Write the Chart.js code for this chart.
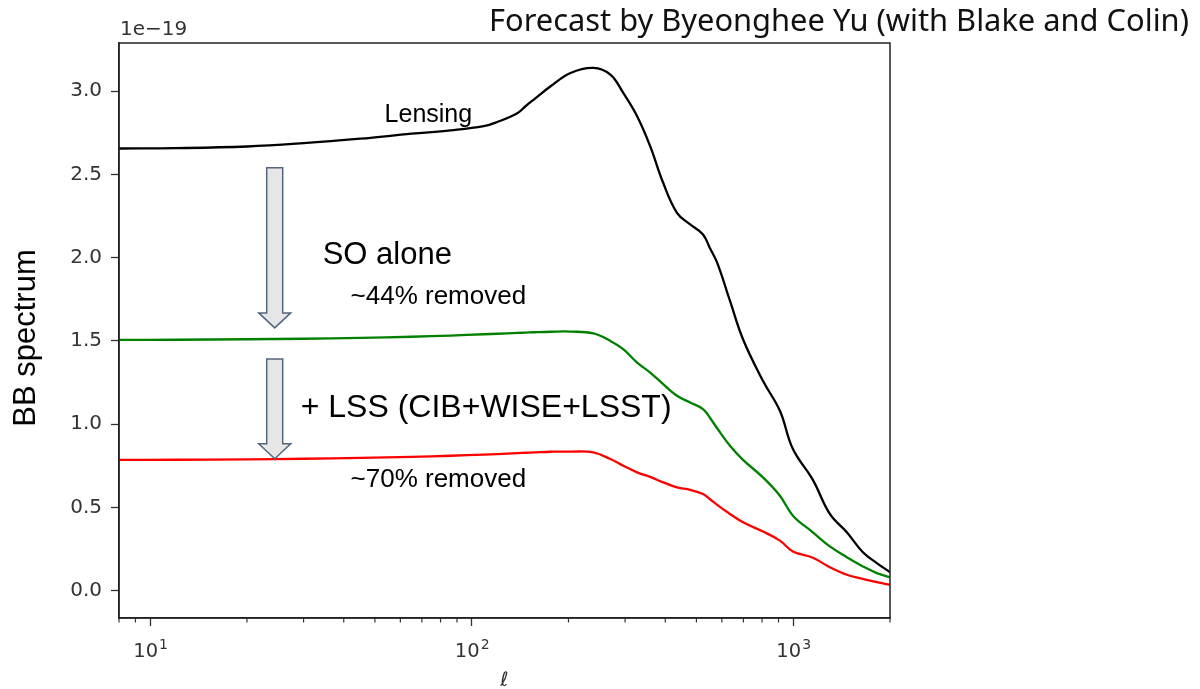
<!DOCTYPE html>
<html>
<head>
<meta charset="utf-8">
<script src="https://cdn.jsdelivr.net/npm/chart.js@4.4.1/dist/chart.umd.min.js"></script>
<style>
  html, body { margin: 0; padding: 0; background: #fff; }
  #wrap { width: 1200px; height: 689px; }
</style>
</head>
<body>
<div id="wrap"><canvas id="chart" width="1200" height="689"></canvas></div>
<script>
// multipole ell and BB spectra (units of 1e-19)
const ell = [8, 12, 20, 30, 45, 65, 86, 109, 120, 139, 147, 156, 176, 203, 239, 270, 296, 327, 359, 394,
  435, 478, 524, 550, 580, 636, 698, 805, 909, 998, 1151, 1300, 1468, 1647, 1820, 2000];
const lensing = [2.656, 2.658, 2.668, 2.688, 2.715, 2.745, 2.765, 2.79, 2.815, 2.87, 2.91, 2.95, 3.03,
  3.11, 3.14, 3.10, 2.99, 2.85, 2.67, 2.45, 2.27, 2.20, 2.14, 2.06, 1.97, 1.74, 1.51, 1.26, 1.08,
  0.85, 0.665, 0.46, 0.35, 0.23, 0.165, 0.11];
const soAlone = [1.506, 1.507, 1.51, 1.513, 1.518, 1.525, 1.532, 1.54, 1.543, 1.548, 1.55, 1.552,
  1.555, 1.556, 1.545, 1.50, 1.45, 1.37, 1.31, 1.24, 1.17, 1.13, 1.09, 1.04, 0.975, 0.87, 0.785,
  0.68, 0.57, 0.45, 0.35, 0.265, 0.20, 0.145, 0.105, 0.08];
const soPlusLss = [0.785, 0.786, 0.788, 0.792, 0.797, 0.803, 0.81, 0.817, 0.82, 0.826, 0.828, 0.83,
  0.834, 0.835, 0.83, 0.79, 0.75, 0.71, 0.683, 0.65, 0.62, 0.605, 0.58, 0.55, 0.515, 0.46, 0.41,
  0.355, 0.30, 0.235, 0.197, 0.14, 0.095, 0.07, 0.05, 0.034];

const yTicks = [0, 0.5, 1.0, 1.5, 2.0, 2.5, 3.0];
const xTicks = [10, 100, 1000];
const xTickExp = ['1', '2', '3'];
const xMinorTicks = [8, 9, 20, 30, 40, 50, 60, 70, 80, 90, 200, 300, 400, 500, 600, 700, 800, 900, 2000];

// text overlays (placed in data coordinates: ell, value)
const notes = [
  { text: 'Lensing', ell: 53.6, value: 2.818, size: 25 },
  { text: 'SO alone', ell: 34.4, value: 1.964, size: 31 },
  { text: '~44% removed', ell: 42.0, value: 1.724, size: 26 },
  { text: '+ LSS (CIB+WISE+LSST)', ell: 29.4, value: 1.045, size: 32 },
  { text: '~70% removed', ell: 42.0, value: 0.623, size: 26 }
];
// down arrows: ell position, start value, tip value
const arrows = [
  { ell: 24.4, from: 2.54, to: 1.578 },
  { ell: 24.4, from: 1.391, to: 0.792 }
];

const toPoints = ys => ell.map((l, i) => ({ x: l, y: ys[i] }));

const decor = {
  id: 'decor',
  afterDatasetsDraw(chart) {
    const { ctx, scales } = chart;
    const xs = scales.x, ys = scales.y;
    ctx.save();

    // arrows
    arrows.forEach(ar => {
      const cx = xs.getPixelForValue(ar.ell);
      const y0 = ys.getPixelForValue(ar.from);
      const y1 = ys.getPixelForValue(ar.to);
      const sw = 8, hw = 16, hl = 15;
      ctx.beginPath();
      ctx.moveTo(cx - sw, y0);
      ctx.lineTo(cx + sw, y0);
      ctx.lineTo(cx + sw, y1 - hl);
      ctx.lineTo(cx + hw, y1 - hl);
      ctx.lineTo(cx, y1);
      ctx.lineTo(cx - hw, y1 - hl);
      ctx.lineTo(cx - sw, y1 - hl);
      ctx.closePath();
      ctx.fillStyle = '#e6e6e6';
      ctx.fill();
      ctx.lineWidth = 1.5;
      ctx.strokeStyle = '#53667d';
      ctx.stroke();
    });

    // text notes
    ctx.fillStyle = '#000';
    ctx.textAlign = 'left';
    ctx.textBaseline = 'alphabetic';
    notes.forEach(n => {
      ctx.font = n.size + 'px "Liberation Sans", Arial, sans-serif';
      ctx.fillText(n.text, xs.getPixelForValue(n.ell), ys.getPixelForValue(n.value));
    });
    ctx.restore();
  },
  afterDraw(chart) {
    const { ctx, chartArea: a, scales } = chart;
    ctx.save();
    // frame
    ctx.strokeStyle = '#222';
    ctx.lineWidth = 1.5;
    ctx.strokeRect(a.left, a.top, a.right - a.left, a.bottom - a.top);

    // minor x ticks
    ctx.lineWidth = 1.2;
    ctx.strokeStyle = '#333';
    xMinorTicks.forEach(v => {
      const px = scales.x.getPixelForValue(v);
      if (px < a.left - 0.5 || px > a.right + 0.5) return;
      ctx.beginPath();
      ctx.moveTo(px, a.bottom);
      ctx.lineTo(px, a.bottom + 4.5);
      ctx.stroke();
    });

    // x tick labels as 10^n with a raised exponent
    ctx.fillStyle = '#333';
    ctx.textBaseline = 'alphabetic';
    ctx.textAlign = 'left';
    xTicks.forEach((v, i) => {
      const px = scales.x.getPixelForValue(v);
      ctx.font = '19.5px "DejaVu Sans", sans-serif';
      const wb = ctx.measureText('10').width;
      ctx.font = '14px "DejaVu Sans", sans-serif';
      const we = ctx.measureText(xTickExp[i]).width;
      const x0 = px - (wb + we) / 2;
      ctx.font = '19.5px "DejaVu Sans", sans-serif';
      ctx.fillText('10', x0, a.bottom + 39);
      ctx.font = '14px "DejaVu Sans", sans-serif';
      ctx.fillText(xTickExp[i], x0 + wb + 1, a.bottom + 31);
    });

    // offset text
    ctx.font = '20px "DejaVu Sans", sans-serif';
    ctx.fillText('1e\u221219', a.left + 1, 35);

    // title, fitted to its width in the figure
    const title = 'Forecast by Byeonghee Yu (with Blake and Colin)';
    ctx.font = '24px "Noto Sans", sans-serif';
    const w = ctx.measureText(title).width;
    const fs = 24 * 700 / w;
    ctx.font = fs.toFixed(2) + 'px "Noto Sans", sans-serif';
    ctx.fillStyle = '#111';
    ctx.fillText(title, 489, 31);

    // y label
    ctx.save();
    ctx.translate(26, 338);
    ctx.rotate(-Math.PI / 2);
    ctx.font = '31px "Liberation Sans", Arial, sans-serif';
    ctx.fillStyle = '#000';
    ctx.textAlign = 'center';
    ctx.textBaseline = 'middle';
    ctx.fillText('BB spectrum', 0, 0);
    ctx.restore();

    // x label
    ctx.font = 'italic 20px "DejaVu Sans", sans-serif';
    ctx.fillStyle = '#333';
    ctx.textAlign = 'center';
    ctx.textBaseline = 'middle';
    ctx.fillText('\u2113', (a.left + a.right) / 2, 681);
    ctx.restore();
  }
};

new Chart(document.getElementById('chart'), {
  type: 'line',
  data: {
    datasets: [
      { label: 'Lensing', data: toPoints(lensing), borderColor: '#000000', borderWidth: 2.3 },
      { label: 'SO alone', data: toPoints(soAlone), borderColor: '#008000', borderWidth: 2.3 },
      { label: '+ LSS', data: toPoints(soPlusLss), borderColor: '#ff0000', borderWidth: 2.3 }
    ]
  },
  options: {
    responsive: false,
    animation: false,
    layout: { padding: { top: 43, right: 310, bottom: 0, left: 0 } },
    elements: {
      point: { radius: 0 },
      line: { tension: 0.4, fill: false }
    },
    plugins: { legend: { display: false }, tooltip: { enabled: false } },
    scales: {
      x: {
        type: 'logarithmic',
        min: 8,
        max: 2000,
        afterBuildTicks: s => { s.ticks = xTicks.map(v => ({ value: v })); },
        afterFit: s => { s.height = 71; },
        ticks: { callback: () => '', maxRotation: 0 },
        grid: { display: true, drawOnChartArea: false, drawTicks: true, tickLength: 8, tickColor: '#333', tickWidth: 1.3 },
        border: { display: true, color: '#222', width: 1.5 }
      },
      y: {
        min: -0.165,
        max: 3.29,
        afterBuildTicks: s => { s.ticks = yTicks.map(v => ({ value: v })); },
        afterFit: s => { s.width = 119; },
        ticks: {
          callback: v => Number(v).toFixed(1),
          color: '#333',
          font: { family: 'DejaVu Sans', size: 20 },
          padding: 9
        },
        grid: { display: true, drawOnChartArea: false, drawTicks: true, tickLength: 8, tickColor: '#333', tickWidth: 1.3 },
        border: { display: true, color: '#222', width: 1.5 }
      }
    }
  },
  plugins: [decor]
});
</script>
</body>
</html>
